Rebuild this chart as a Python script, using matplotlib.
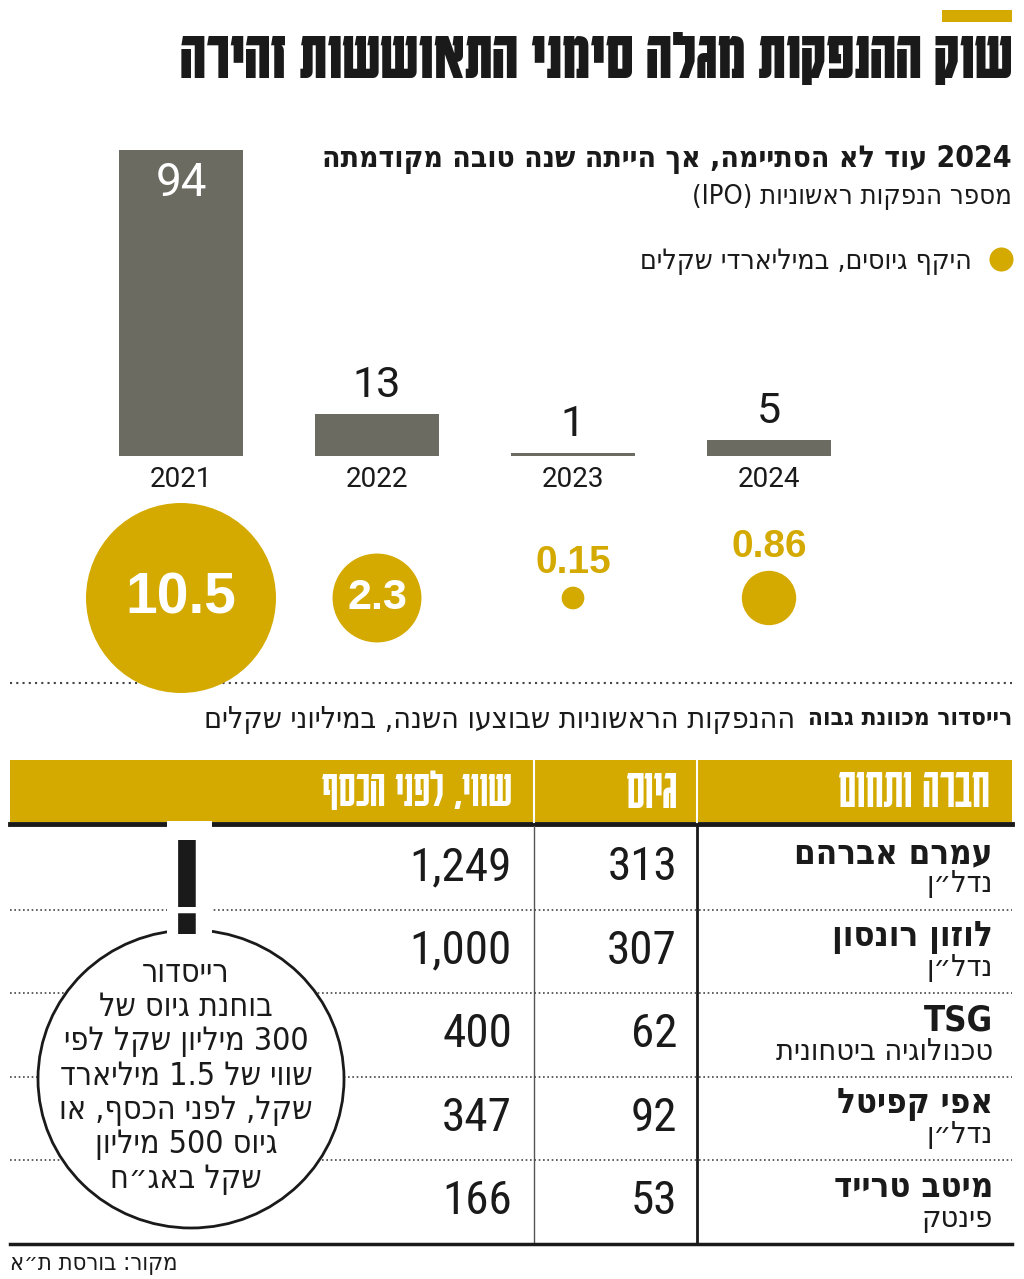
import re
import numpy as np
import matplotlib
matplotlib.use('Agg')
import matplotlib.pyplot as plt
from matplotlib.patches import Ellipse, Rectangle

# ===== data =====
years = ['2021', '2022', '2023', '2024']
ipo_count = [94, 13, 1, 5]
raised_bn = [10.5, 2.3, 0.15, 0.86]

companies = ['עמרם אברהם', 'לוזון רונסון', 'TSG', 'אפי קפיטל', 'מיטב טרייד']
sectors = ['נדל״ן', 'נדל״ן', 'טכנולוגיה ביטחונית', 'נדל״ן', 'פינטק']
raised_m = [313, 307, 62, 92, 53]
valuation_m = [1249, 1000, 400, 347, 166]

title = 'שוק ההנפקות מגלה סימני התאוששות זהירה'
subtitle = '2024 עוד לא הסתיימה, אך הייתה שנה טובה מקודמתה'
desc = 'מספר הנפקות ראשוניות (IPO)'
legend_txt = 'היקף גיוסים, במיליארדי שקלים'
table_title = 'רייסדור מכוונת גבוה'
table_sub = 'ההנפקות הראשוניות שבוצעו השנה, במיליוני שקלים'
headers = ['חברה ותחום', 'גיוס', 'שווי, לפני הכסף']
note_lines = ['רייסדור', 'בוחנת גיוס של', '300 מיליון שקל לפי', 'שווי של 1.5 מיליארד',
              'שקל, לפני הכסף, או', 'גיוס 500 מיליון', 'שקל באג״ח']
source = 'מקור: בורסת ת״א'

GOLD = '#d4aa00'
GREY = '#6b6b61'
INK = '#1a1a1a'
DISPLAY = ['Karantina', 'DejaVu Sans']
BODY = ['DejaVu Sans']
NUMC = ['Roboto Condensed', 'DejaVu Sans']
NUM = ['Heebo', 'DejaVu Sans']
BUB = ['Liberation Sans', 'DejaVu Sans']

# matplotlib has no bidi, so flip Hebrew to visual order (keep numbers / latin LTR)
LTR = re.compile(r'[A-Za-z0-9](?:[A-Za-z0-9.,]*[A-Za-z0-9])?')
MIRROR = {'(': ')', ')': '('}


def rtl(s):
    r = LTR.sub(lambda m: m.group(0)[::-1], s[::-1])
    return ''.join(MIRROR.get(c, c) for c in r)


W, H = 1024, 1279
fig = plt.figure(figsize=(W / 100, H / 100), dpi=100)
ax = fig.add_axes([0, 0, 1, 1])
ax.set_xlim(0, W)
ax.set_ylim(H, 0)
ax.axis('off')
renderer = fig.canvas.get_renderer()


def txt(x, y, s, size=20, family=BODY, weight='normal', ha='right', color=INK,
        stretch='condensed', **kw):
    return ax.text(x, y, s, fontsize=size, family=family, weight=weight, ha=ha,
                   va='center', color=color, stretch=stretch, **kw)


def fit(t, width):
    w = t.get_window_extent(renderer).width
    t.set_fontsize(t.get_fontsize() * width / w)
    return t.get_fontsize()


def size_for(s, width, **kw):
    t = txt(500, 500, s, **kw)
    fs = fit(t, width)
    t.remove()
    return fs


# ===== header =====
ax.add_patch(Rectangle((942, 10), 70, 12, color=GOLD, lw=0))
fit(txt(1012, 58, rtl(title), 40, DISPLAY, 'bold', stretch='normal'), 832)
fit(txt(1012, 160, rtl(subtitle), 20, BODY, 'bold'), 690)
fit(txt(1012, 197, rtl(desc), 18, BODY), 320)
ax.scatter([1001], [259], s=300, color=GOLD, lw=0)
fit(txt(972, 261, rtl(legend_txt), 18, BODY), 332)

# ===== bars: number of IPOs =====
bax = fig.add_axes([83 / W, (H - 456) / H, 784 / W, 306 / H])
x = np.arange(len(years))
bax.bar(x, ipo_count, width=0.628, color=GREY)
bax.set_xlim(-0.5, 3.5)
bax.set_ylim(0, 94)
bax.axis('off')
for i, v in enumerate(ipo_count):
    if v > 50:
        bax.annotate(str(v), (i, v), xytext=(0, -24), textcoords='offset points',
                     ha='center', va='center', color='white', fontsize=33, family=NUM)
    else:
        bax.annotate(str(v), (i, v), xytext=(0, 20), textcoords='offset points',
                     ha='center', va='center', color=INK, fontsize=31, family=NUM)
    bax.annotate(years[i], (i, 0), xytext=(0, -17), textcoords='offset points',
                 ha='center', va='center', color=INK, fontsize=20, family=NUM,
                 annotation_clip=False)

# ===== bubbles: amount raised =====
cax = fig.add_axes([83 / W, (H - 698) / H, 784 / W, 200 / H], zorder=3)
cax.set_xlim(-0.5, 3.5)
cax.set_ylim(-1, 1)
cax.axis('off')
cax.patch.set_alpha(0)
K = 1782.0
sizes = np.array(raised_bn) * K
cax.scatter(x, np.zeros(len(x)), s=sizes, color=GOLD, lw=0, clip_on=False)
for i, v in enumerate(raised_bn):
    r_pt = np.sqrt(sizes[i]) / 2
    lab = f'{v:g}'
    if r_pt > 25:
        cax.annotate(lab, (i, 0), ha='center', va='center', color='white',
                     fontsize=41 if v > 5 else 31, family=BUB, weight='bold')
    else:
        cax.annotate(lab, (i, 0), xytext=(0, r_pt + 17), textcoords='offset points',
                     ha='center', va='center', color=GOLD, fontsize=28, family=BUB,
                     weight='bold', annotation_clip=False)

ax.plot([10, 1012], [683, 683], color='#444444', lw=1.5, ls=(0, (1, 2)))

# ===== table =====
fit(txt(1012, 718, rtl(table_title), 22, BODY, 'bold'), 204)
fit(txt(795, 719, rtl(table_sub), 20, BODY), 590)

ax.add_patch(Rectangle((10, 760), 1002, 62, color=GOLD, lw=0))
ax.plot([10, 1012], [824, 824], color=INK, lw=3.5)
for xs in (534, 697):
    ax.plot([xs, xs], [760, 822], color='white', lw=1.5)
ax.plot([534, 534], [826, 1244], color='#555555', lw=1)
ax.plot([697, 697], [826, 1244], color=INK, lw=2)
hx = [990, 677, 512]
hw = [152, 52, 190]
for s, xh, wh in zip(headers, hx, hw):
    fit(txt(xh, 791, rtl(s), 24, DISPLAY, 'normal', color='white', stretch='normal'), wh)

row_h = (1244 - 826) / len(companies)
name_fs = size_for(rtl(companies[0]), 198, size=20, family=BODY, weight='bold')
sec_fs = size_for(rtl(sectors[2]), 217, size=20, family=BODY)
num_fs = size_for(f'{valuation_m[0]:,}', 102, size=30, family=NUMC, stretch='normal')
for i in range(len(companies)):
    top = 826 + i * row_h
    if i > 0:
        ax.plot([10, 1012], [top, top], color='#444444', lw=1.2, ls=(0, (1, 1.6)))
    txt(993, top + 27, rtl(companies[i]), name_fs, BODY, 'bold')
    txt(993, top + 58, rtl(sectors[i]), sec_fs, BODY)
    txt(677, top + 41, f'{raised_m[i]:,}', num_fs, NUMC, stretch='normal')
    txt(512, top + 41, f'{valuation_m[i]:,}', num_fs, NUMC, stretch='normal')
ax.plot([10, 1012], [1244, 1244], color=INK, lw=2.5)

# ===== callout =====
ax.add_patch(Ellipse((191, 1079), 306, 298, facecolor='white', edgecolor=INK, lw=2, zorder=4))
ax.add_patch(Rectangle((167, 821), 45, 128, color='white', lw=0, zorder=5))
bang = ax.text(187, 900, '!', fontsize=112, family=DISPLAY, weight='bold', ha='center',
               va='bottom', color=INK, zorder=6)
# put the bottom of the "!" box just above the first note line
bb = bang.get_window_extent(renderer).transformed(ax.transData.inverted())
bang.set_y(900 - (max(bb.y0, bb.y1) - 955))
note_fs = size_for(rtl(note_lines[3]), 252, size=20, family=BODY)
for j, line in enumerate(note_lines):
    txt(186, 973 + j * 34.4, rtl(line), note_fs, BODY, ha='center', zorder=6)

fit(txt(10, 1263, rtl(source), 16, BODY, ha='left'), 168)

fig.savefig('out.png', dpi=100)
